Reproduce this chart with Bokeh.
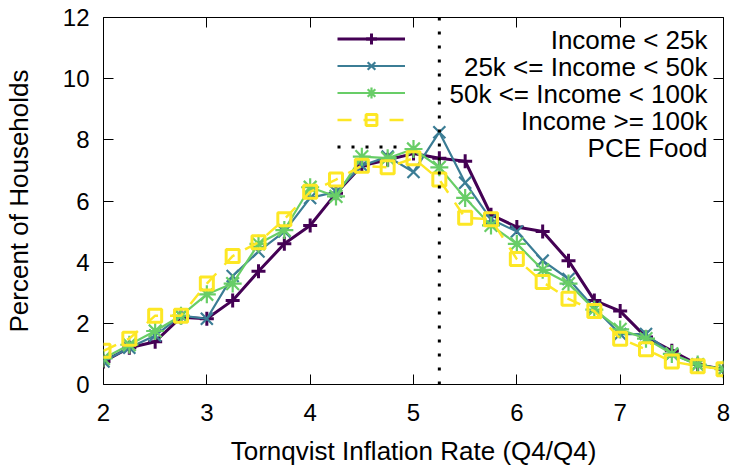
from bokeh.plotting import figure
from bokeh.models import (LinearAxis, Legend, LegendItem, Label, Range1d,
                          CustomJSTickFormatter)
from bokeh.core.properties import value
from bokeh.embed import file_html
from bokeh.resources import INLINE

# ---------------- data ----------------
x_rate = [2.0, 2.25, 2.5, 2.75, 3.0, 3.25, 3.5, 3.75, 4.0, 4.25, 4.5, 4.75, 5.0,
          5.25, 5.5, 5.75, 6.0, 6.25, 6.5, 6.75, 7.0, 7.25, 7.5, 7.75, 8.0]

inc_lt25 = [0.75, 1.2, 1.4, 2.2, 2.15, 2.75, 3.7, 4.6, 5.2, 6.25, 7.15, 7.35, 7.55,
            7.4, 7.3, 5.55, 5.15, 5.0, 4.05, 2.75, 2.4, 1.55, 1.1, 0.65, 0.5]
inc_25_50 = [0.75, 1.2, 1.6, 2.25, 2.15, 3.55, 4.35, 5.0, 6.1, 6.3, 7.15, 7.45, 6.95,
             8.25, 6.6, 5.4, 5.0, 4.05, 3.45, 2.5, 1.65, 1.65, 1.0, 0.65, 0.5]
inc_50_100 = [0.85, 1.3, 1.75, 2.25, 2.95, 3.3, 4.6, 5.05, 6.45, 6.15, 7.45, 7.4, 7.7,
              7.1, 6.1, 5.2, 4.6, 3.75, 3.3, 2.45, 1.8, 1.5, 1.0, 0.65, 0.5]
inc_ge100 = [1.1, 1.5, 2.25, 2.25, 3.3, 4.2, 4.65, 5.4, 6.3, 6.7, 7.15, 7.1, 7.4,
             6.7, 5.45, 5.4, 4.1, 3.35, 2.8, 2.4, 1.5, 1.15, 0.75, 0.6, 0.5]

pce_food = 5.25

series_names = ["Income < 25k", "25k <= Income < 50k", "50k <= Income < 100k",
                "Income >= 100k", "PCE Food"]
x_ticks = [2, 3, 4, 5, 6, 7, 8]
y_ticks = [0, 2, 4, 6, 8, 10, 12]
x_lim = (2, 8)
y_lim = (0, 12)

# ---------------- style ----------------
FONT = "Liberation Sans"
colors = ["#440154", "#3b7d95", "#68cd67", "#fde725", "black"]

p = figure(width=733, height=468, output_backend="svg", toolbar_location=None,
           x_range=Range1d(*x_lim), y_range=Range1d(*y_lim),
           min_border_left=103, min_border_right=10, min_border_top=17,
           min_border_bottom=82)
p.xgrid.visible = False
p.ygrid.visible = False
p.outline_line_color = "black"
p.outline_line_width = 1
p.outline_line_alpha = 1

for ax in (p.xaxis[0], p.yaxis[0]):
    ax.major_tick_in = 10
    ax.major_tick_out = 0
    ax.minor_tick_in = 0
    ax.minor_tick_out = 0
    ax.axis_line_color = None
    ax.major_tick_line_color = "black"
    ax.major_label_text_font = FONT
    ax.major_label_text_font_size = "24px"
    ax.major_label_text_color = "black"
    ax.axis_label_text_font = FONT
    ax.axis_label_text_font_size = "26px"
    ax.axis_label_text_font_style = "normal"
    ax.axis_label_text_color = "black"

p.xaxis.ticker = x_ticks
p.yaxis.ticker = y_ticks
p.xaxis.axis_label = "Tornqvist Inflation Rate (Q4/Q4)"
p.yaxis.axis_label = "Percent of Households"
p.xaxis.major_label_standoff = 19
p.yaxis.major_label_standoff = 14
p.xaxis.axis_label_standoff = 12
p.yaxis.axis_label_standoff = 26

# mirrored ticks on top and right
blank = CustomJSTickFormatter(code="return ''")
for side, ticks in (("above", x_ticks), ("right", y_ticks)):
    ax = LinearAxis(ticker=ticks, formatter=blank, major_tick_in=10, major_tick_out=0,
                    minor_tick_in=0, minor_tick_out=0, axis_line_color=None,
                    major_label_standoff=0, major_label_text_font_size="1px",
                    major_tick_line_color="black")
    p.add_layout(ax, side)

# ---------------- series ----------------
r1l = p.line(x_rate, inc_lt25, line_color=colors[0], line_width=3)
r1m = p.scatter(x_rate, inc_lt25, marker="cross", size=14,
                line_color=colors[0], line_width=3)
r2l = p.line(x_rate, inc_25_50, line_color=colors[1], line_width=2.2)
r2m = p.scatter(x_rate, inc_25_50, marker="x", size=17,
                line_color=colors[1], line_width=2.2)
r3l = p.line(x_rate, inc_50_100, line_color=colors[2], line_width=2.2)
r3m = p.scatter(x_rate, inc_50_100, marker="asterisk", size=18,
                line_color=colors[2], line_width=2.2)
r4l = p.line(x_rate, inc_ge100, line_color=colors[3], line_width=2.5,
             line_dash="14 12")
r4m = p.scatter(x_rate, inc_ge100, marker="square", size=13, fill_color=None,
                line_color=colors[3], line_width=3)
r5 = p.segment(x0=[pce_food], y0=[y_lim[0]], x1=[pce_food], y1=[y_lim[1]],
               line_color=colors[4], line_width=3, line_dash="3 11")

# ---------------- legend (samples) + right aligned texts ----------------
groups = [[r1l, r1m], [r2l, r2m], [r3l, r3m], [r4l, r4m], [r5]]
legend = Legend(items=[LegendItem(label=value(""), renderers=g) for g in groups],
                location=(234, 224), orientation="vertical",
                glyph_width=68, glyph_height=27, label_height=27, label_width=0,
                label_standoff=0, spacing=0, padding=0, margin=0,
                border_line_color=None, background_fill_alpha=0,
                label_text_font_size="1px")
p.add_layout(legend, "center")

for i, name in enumerate(series_names):
    p.add_layout(Label(x=604, y=344.5 - 27 * i, x_units="screen", y_units="screen",
                       text=name, text_align="right", text_baseline="middle",
                       text_font=FONT, text_font_size="26px", text_color="black"))

open("out.html", "w").write(file_html(p, INLINE))
